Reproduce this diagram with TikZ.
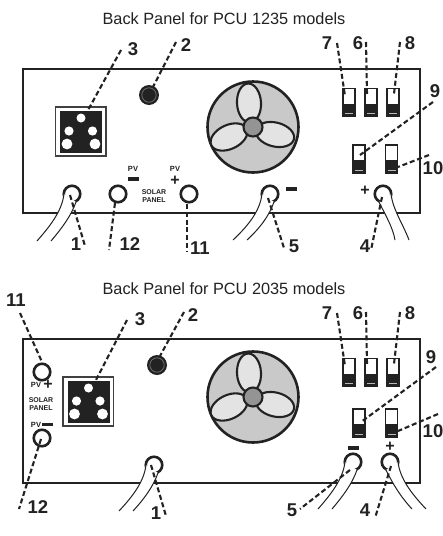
\documentclass[tikz,border=0pt]{standalone}
\usepackage{fontspec}
\setmainfont{Liberation Sans}
\definecolor{ink}{HTML}{222222}
\tikzset{
  title/.style={font=\fontsize{16.3}{18}\selectfont,text=ink,inner sep=0pt},
  num/.style={font=\fontsize{18.5}{20}\selectfont\bfseries,text=ink,inner sep=0pt},
  tiny/.style={font=\fontsize{7}{7.8}\selectfont\bfseries,text=ink,inner sep=0pt,align=center},
  pvtext/.style={font=\fontsize{7.5}{8}\selectfont\bfseries,text=ink,inner sep=0pt},
  sign/.style={font=\fontsize{16}{16}\selectfont\bfseries,text=ink,inner sep=0pt},
  lead/.style={draw=ink,line width=2.1pt,dash pattern=on 5pt off 2.8pt},
  panel/.style={draw=ink,line width=2pt,fill=white},
  term/.style={circle,draw=ink,line width=2.6pt,fill=white,minimum size=16.5pt,inner sep=0pt},
  bar/.style={draw=none,fill=ink,inner sep=0pt,minimum width=11pt,minimum height=3.2pt},
  wire/.style={draw=ink,line width=1pt},
  switchpic/.pic={
    \fill[white] (0,0) rectangle (12,28);
    \fill[ink] (0,15) rectangle (12,28);
    \draw[ink,line width=1.7pt] (0,0) rectangle (12,28);
    \fill[gray!55] (2,24.5) rectangle (10,25.8);
  },
  fanpic/.pic={
    \draw[ink,line width=2.6pt,fill=black!21] (0,0) circle[radius=45.5pt];
    \begin{scope}[shift={(-4,-24)},rotate=3]\draw[ink,line width=2.1pt,fill=black!11] (0,0) ellipse[x radius=12pt,y radius=19.5pt];\end{scope}
    \begin{scope}[shift={(22,7.5)},rotate=76]\draw[ink,line width=2.1pt,fill=black!11] (0,0) ellipse[x radius=12pt,y radius=19.5pt];\end{scope}
    \begin{scope}[shift={(-24,10)},rotate=115]\draw[ink,line width=2.1pt,fill=black!11] (0,0) ellipse[x radius=12pt,y radius=19.5pt];\end{scope}
    \draw[ink,line width=2.1pt,fill=black!42] (0,0) circle[radius=9.5pt];
  },
  socketpic/.pic={
    \draw[black!75,line width=1.4pt,fill=white] (0,0) rectangle (50.5,49);
    \fill[ink] (4.5,4) rectangle (46.5,46);
    \fill[white] (25.5,11) circle[radius=4.5pt];
    \fill[white] (13.5,24) circle[radius=4.6pt];
    \fill[white] (37,24) circle[radius=4.6pt];
    \fill[white] (11.5,37) circle[radius=5.4pt];
    \fill[white] (39.5,37) circle[radius=5.4pt];
  },
  knobpic/.pic={
    \fill[ink] (0,0) circle[radius=10pt];
    \draw[black!55,line width=.7pt] (0,0) circle[radius=7.2pt];
  }
}
\newcommand{\cableL}[5]{% cx,cy,end1x,endy,end2x
  \node[term] (#5r) at (#1,#2) {};
  \fill[white] (#1-8,#2) .. controls (#1-10,#2+16) and (#1-20,#2+30) .. (#3,#4)
    -- (#3+14,#4) .. controls (#1-10,#2+34) and (#1-1,#2+22) .. (#1+4,#2+8) -- cycle;
  \draw[wire] (#1-8,#2) .. controls (#1-10,#2+16) and (#1-20,#2+30) .. (#3,#4);
  \draw[wire] (#1+4,#2+8) .. controls (#1-1,#2+22) and (#1-10,#2+34) .. (#3+14,#4);
}
\newcommand{\cableR}[5]{%
  \node[term] (#5r) at (#1,#2) {};
  \fill[white] (#1-4,#2+8) .. controls (#1+3,#2+22) and (#1+10,#2+34) .. (#3,#4)
    -- (#3+14,#4) .. controls (#1+20,#2+30) and (#1+10,#2+16) .. (#1+8,#2) -- cycle;
  \draw[wire] (#1-4,#2+8) .. controls (#1+3,#2+22) and (#1+10,#2+34) .. (#3,#4);
  \draw[wire] (#1+8,#2) .. controls (#1+10,#2+16) and (#1+20,#2+30) .. (#3+14,#4);
}
\newcommand{\leadline}[5]{% name, x1,y1,x2,y2
  \coordinate (#1a) at (#2,#3);
  \coordinate (#1b) at (#4,#5);
  \draw[lead] (#1a) -- (#1b);
}
\begin{document}
\begin{tikzpicture}[x=1pt,y=-1pt]
\useasboundingbox (0,0) rectangle (443,536);
\fill[white] (0,0) rectangle (443,536);
% ---------- top panel ----------
\node[title] (topTitle) at (224,18.5) {Back Panel for PCU 1235 models};
\draw[panel] (22.5,69) rectangle (419.5,213);
\pic at (55.5,107) {socketpic};
\pic at (149,95) {knobpic};
\pic at (253,127) {fanpic};
\pic at (343,88.5) {switchpic};
\pic at (365,88.5) {switchpic};
\pic at (387,88.5) {switchpic};
\pic at (353,145) {switchpic};
\pic at (385.5,145) {switchpic};
\cableL{72}{194}{37}{241}{tA}
\cableL{270}{194}{233}{240}{tB}
\cableR{383}{194}{395}{240}{tC}
\node[term] (t12) at (118,194) {};
\node[term] (t11) at (189,194) {};
\node[pvtext] (pvm) at (133,169) {PV};
\node[bar] (barm) at (133,179) {};
\node[pvtext] (pvp) at (175,169) {PV};
\node[sign] (plusp) at (175,181) {+};
\node[tiny] (solar) at (154,196) {SOLAR\\PANEL};
\node[bar] (bar5) at (291,189) {};
\node[sign] (plus4) at (365,191) {+};
\node[num] (n3) at (133,49) {3};
\node[num] (n2) at (186,45) {2};
\node[num] (n1) at (76,244) {1};
\node[num] (n12) at (130,244) {12};
\node[num] (n11) at (200,248) {11};
\node[num] (n7) at (327,43) {7};
\node[num] (n6) at (358,43) {6};
\node[num] (n8) at (410,43) {8};
\node[num] (n9) at (435,91) {9};
\node[num] (n10) at (433,168) {10};
\node[num] (n5) at (294,246) {5};
\node[num] (n4) at (365,246) {4};
\leadline{l3}{121}{50}{87}{112}
\leadline{l2}{176}{42}{153}{87}
\leadline{l1}{70}{195}{85}{246}
\leadline{l12}{115}{203}{109}{250}
\leadline{l11}{187}{204}{187}{252}
\leadline{l7}{337}{43}{345}{96}
\leadline{l6}{366}{42}{367}{94}
\leadline{l8}{400}{42}{394}{94}
\leadline{l9}{433}{102}{360}{155}
\leadline{l10}{429}{155}{398}{167}
\leadline{l5}{268}{198}{284}{248}
\leadline{l4}{382}{197}{371}{250}
% ---------- bottom panel ----------
\node[title] (botTitle) at (224,288.5) {Back Panel for PCU 2035 models};
\draw[panel] (22.5,338.5) rectangle (419.5,483);
\pic at (63,377) {socketpic};
\pic at (157,365) {knobpic};
\pic at (253,397) {fanpic};
\pic at (343,358.5) {switchpic};
\pic at (365,358.5) {switchpic};
\pic at (387,358.5) {switchpic};
\pic at (353,409) {switchpic};
\pic at (385.5,409) {switchpic};
\cableL{154}{465}{119}{511}{tD}
\cableL{353}{462}{318}{509}{tE}
\cableR{390}{462}{412}{509}{tF}
\node[term] (b11) at (42,372) {};
\node[term] (b12) at (42,438) {};
\node[pvtext] (bpvp) at (36,385) {PV};
\node[sign] (bplusp) at (48,385) {+};
\node[tiny] (bsolar) at (41,404) {SOLAR\\PANEL};
\node[pvtext] (bpvm) at (36,424.5) {PV};
\node[bar] (bbarm) at (47.5,424.5) {};
\node[bar] (bbar5) at (353,448) {};
\node[sign] (bplus4) at (390,447) {+};
\node[num] (m11) at (16,300) {11};
\node[num] (m12) at (38,507) {12};
\node[num] (m3) at (140,319) {3};
\node[num] (m2) at (193,315) {2};
\node[num] (m1) at (156,513) {1};
\node[num] (m7) at (327,313) {7};
\node[num] (m6) at (358,313) {6};
\node[num] (m8) at (410,313) {8};
\node[num] (m9) at (431,357) {9};
\node[num] (m10) at (433,431) {10};
\node[num] (m5) at (292,510) {5};
\node[num] (m4) at (365,510) {4};
\leadline{k11}{20}{313}{42}{362}
\leadline{k12}{41}{439}{19}{509}
\leadline{k3}{127}{320}{95}{382}
\leadline{k2}{184}{312}{160}{356}
\leadline{k1}{151}{465}{166}{516}
\leadline{k7}{337}{313}{345}{366}
\leadline{k6}{366}{312}{367}{364}
\leadline{k8}{400}{312}{394}{364}
\leadline{k9}{436}{367}{361}{422}
\leadline{k10}{438}{414}{398}{431}
\leadline{k5}{350}{470}{300}{509}
\leadline{k4}{391}{466}{375}{518}
\end{tikzpicture}
\end{document}
